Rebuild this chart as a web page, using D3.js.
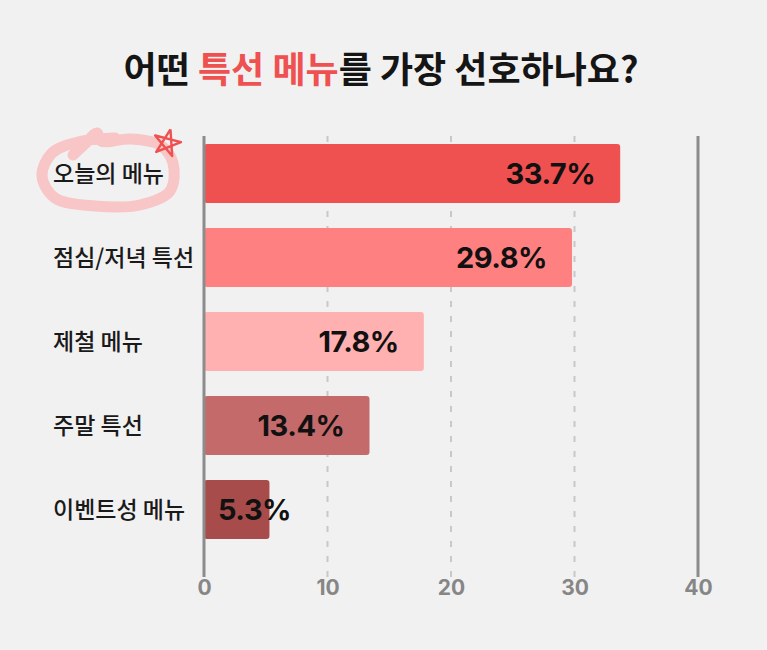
<!DOCTYPE html>
<html>
<head>
<meta charset="utf-8">
<script src="https://cdn.jsdelivr.net/npm/d3@7"></script>
<style>
  body { margin: 0; background: #f1f1f1; }
  svg { display: block; }
</style>
</head>
<body>
<div id="chart"></div>
<script>
// data
var categories = ["오늘의 메뉴", "점심/저녁 특선", "제철 메뉴", "주말 특선", "이벤트성 메뉴"];
var values = [33.7, 29.8, 17.8, 13.4, 5.3];
var barColors = ["#ef5050", "#ff8080", "#ffb0b0", "#c46a6a", "#a84b4b"];
var ticks = [0, 10, 20, 30, 40];

var width = 767, height = 650;
var korFont = "'Noto Sans CJK KR', 'Noto Sans', sans-serif";
var numFont = "Inter, 'Noto Sans', sans-serif";

var svg = d3.select("#chart").append("svg")
    .attr("width", width).attr("height", height);

svg.append("rect").attr("width", width).attr("height", height).attr("fill", "#f1f1f1");

var x = d3.scaleLinear().domain([0, 40]).range([204, 698]);
var y = d3.scaleBand().domain(categories).range([131.5, 551.5])
    .paddingInner(0.3).paddingOuter(0.15);

// title
var title = svg.append("text")
    .attr("x", 381).attr("y", 83)
    .attr("text-anchor", "middle")
    .style("font-family", korFont)
    .style("font-size", "36px")
    .style("font-weight", 700)
    .attr("fill", "#151515");
title.append("tspan").text("어떤 ");
title.append("tspan").attr("fill", "#ef5050").text("특선 메뉴");
title.append("tspan").text("를 가장 선호하나요?");

// dashed grid
svg.selectAll(".grid").data(ticks.filter(function(d) { return d > 0 && d < 40; }))
  .enter().append("line")
    .attr("class", "grid")
    .attr("x1", function(d) { return x(d); })
    .attr("x2", function(d) { return x(d); })
    .attr("y1", 136).attr("y2", 577)
    .attr("stroke", "#c8c8c8")
    .attr("stroke-width", 2)
    .attr("stroke-dasharray", "6,9");

// bars
svg.selectAll(".bar").data(values)
  .enter().append("rect")
    .attr("class", "bar")
    .attr("x", x(0))
    .attr("y", function(d, i) { return y(categories[i]); })
    .attr("width", function(d) { return x(d) - x(0); })
    .attr("height", y.bandwidth())
    .attr("rx", 3)
    .attr("fill", function(d, i) { return barColors[i]; });

// solid lines at 0 and 40
svg.selectAll(".edge").data([0, 40])
  .enter().append("line")
    .attr("class", "edge")
    .attr("x1", function(d) { return x(d); })
    .attr("x2", function(d) { return x(d); })
    .attr("y1", 136).attr("y2", 577)
    .attr("stroke", "#8c8c8c")
    .attr("stroke-width", 3);

// bottom axis labels
var axis = d3.axisBottom(x).tickValues(ticks).tickSize(0).tickPadding(0);
var ax = svg.append("g").attr("transform", "translate(0,580)").call(axis);
ax.select(".domain").remove();
ax.selectAll("text")
    .attr("dy", "0.71em")
    .attr("fill", "#868686")
    .style("font-family", numFont)
    .style("font-size", "21px")
    .style("font-weight", 700);

// value labels
svg.selectAll(".val").data(values)
  .enter().append("text")
    .attr("class", "val")
    .attr("y", function(d, i) { return y(categories[i]) + y.bandwidth() / 2; })
    .attr("dy", "0.36em")
    .style("font-family", numFont)
    .style("font-size", "29px")
    .style("font-weight", 700)
    .style("letter-spacing", "-0.5px")
    .attr("fill", "#111")
    .text(function(d) { return d.toFixed(1) + "%"; })
    .each(function(d) {
      var t = d3.select(this);
      var w = this.getComputedTextLength();
      var end = x(d) - 25;
      if (end - w < x(0) + 14) {
        t.attr("x", x(0) + 14).attr("text-anchor", "start");
      } else {
        t.attr("x", end).attr("text-anchor", "end");
      }
    });

// annotation ring around the first category
var firstY = y(categories[0]) + y.bandwidth() / 2;
var ring = d3.line().curve(d3.curveCatmullRom.alpha(0.5));
var ringPts = [
  [73, 155], [86, 143], [97, 133], [101, 141], [130, 139], [160, 145],
  [173, 163], [170, 191], [140, 205], [95, 206], [55, 198], [42, 176],
  [52, 153], [78, 142], [115, 138]
].map(function(p) { return [p[0], p[1] - 173.5 + firstY]; });
svg.insert("path", ".grid")
    .attr("d", ring(ringPts))
    .attr("fill", "none")
    .attr("stroke", "#f8c6c6")
    .attr("stroke-width", 11)
    .attr("stroke-linecap", "round")
    .attr("stroke-linejoin", "round");

// small hand drawn star
var starPts = [];
for (var k = 0; k <= 5; k++) {
  var a = -Math.PI / 2 + 0.25 + k * 4 * Math.PI / 5;
  starPts.push([167 + 14 * Math.cos(a), 143 + 14 * Math.sin(a)]);
}
svg.append("path")
    .attr("d", d3.line()(starPts.map(function(p) { return [p[0], p[1] - 173.5 + firstY]; })))
    .attr("fill", "none")
    .attr("stroke", "#ef5050")
    .attr("stroke-width", 2.4)
    .attr("stroke-linejoin", "round");

// category labels
svg.selectAll(".cat").data(categories)
  .enter().append("text")
    .attr("class", "cat")
    .attr("x", 53)
    .attr("y", function(d) { return y(d) + y.bandwidth() / 2; })
    .attr("dy", "0.36em")
    .style("font-family", korFont)
    .style("font-size", "23px")
    .style("font-weight", 500)
    .attr("fill", "#1a1a1a")
    .text(function(d) { return d; });
</script>
</body>
</html>
